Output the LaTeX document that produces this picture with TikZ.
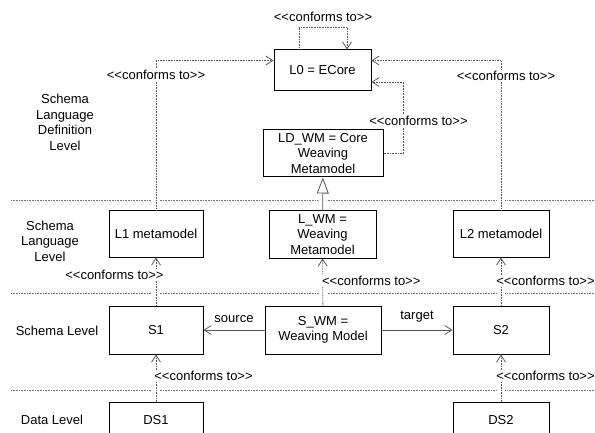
\documentclass[tikz,border=0pt]{standalone}
\usepackage{fontspec}
\setmainfont{Liberation Sans}
\usetikzlibrary{arrows.meta}

\newcommand\conftext{<\kern0pt<conforms to>\kern0pt>}

\begin{document}
\begin{tikzpicture}[x=1pt,y=-1pt,
	font=\fontsize{13}{15.5}\selectfont,
	box/.style={draw,line width=1pt,fill=white,align=center,inner sep=1pt},
	levelline/.style={draw=black!55,line width=.8pt,dash pattern=on .8pt off .8pt},
	gap/.style={preaction={draw=white,solid,line width=8pt,shorten >=4pt,shorten <=4pt,-}},
	conf/.style={gap,draw=black!65,line width=.8pt,dash pattern=on .8pt off .8pt,-{Straight Barb[length=7pt,width=9pt]}},
	inherit/.style={gap,draw=black!65,line width=.8pt,-{Triangle[open,length=16pt,width=12pt,fill=white]}},
	assoc/.style={draw=black!65,line width=.8pt,-{Straight Barb[length=7pt,width=9pt]}},
	conflabel/.style={fill=white,inner sep=1pt},
	levellabel/.style={align=center,inner sep=0pt}]
	\useasboundingbox (0,0) rectangle (595,433);

	% level separators
	\draw[levelline] (11,200) -- (595,200);
	\draw[levelline] (11,293) -- (595,293);
	\draw[levelline] (11,390) -- (595,390);

	% level names
	\node[levellabel] (sldl) at (65,122.5) {Schema\\Language\\Definition\\Level};
	\node[levellabel] (sll) at (50,241) {Schema\\Language\\Level};
	\node[levellabel] (sl) at (57,331) {Schema Level};
	\node[levellabel] (dl) at (52,420) {Data Level};

	% models
	\node[box,minimum width=97pt,minimum height=41pt] (L0) at (322.5,70.5) {L0 = ECore};
	\node[box,minimum width=120pt,minimum height=47pt] (LDWM) at (323,153.5) {LD\_WM = Core\\Weaving\\Metamodel};
	\node[box,minimum width=94pt,minimum height=46pt] (L1) at (156,234) {L1 metamodel};
	\node[box,minimum width=107pt,minimum height=47pt] (LWM) at (322.5,234.5) {L\_WM =\\Weaving\\Metamodel};
	\node[box,minimum width=96pt,minimum height=46pt] (L2) at (501,234) {L2 metamodel};
	\node[box,minimum width=94pt,minimum height=48pt] (S1) at (156,330) {S1};
	\node[box,minimum width=116pt,minimum height=48pt] (SWM) at (323,330) {S\_WM =\\Weaving Model};
	\node[box,minimum width=96pt,minimum height=48pt] (S2) at (501,330) {S2};
	\node[box,anchor=north,minimum width=94pt,text height=22pt,text depth=22pt,inner ysep=0pt] (DS1) at (156,402) {DS1};
	\node[box,anchor=north,minimum width=96pt,text height=22pt,text depth=22pt,inner ysep=0pt] (DS2) at (501,402) {DS2};

	% conformance
	\draw[conf] ([xshift=-23.5pt]L0.north) -- ++(0,-22) -- node[above=4pt,inner sep=1pt] {\conftext} ++(48,0) -- ([xshift=24.5pt]L0.north);
	\draw[conf] (L1) |- ([yshift=10pt]L0.west) node[conflabel,pos=.452] {\conftext};
	\draw[conf] (L2) |- ([yshift=10pt]L0.east) node[conflabel,pos=.448,xshift=5pt] {\conftext};
	\draw[conf] (LDWM.east) -- ++(20,0) |- ([yshift=-11.5pt]L0.east) node[conflabel,pos=.227,xshift=15pt] {\conftext};
	\draw[inherit] (LWM) -- (LDWM);

	\draw[conf] (S1) -- (L1) node[conflabel,pos=.63,anchor=east,xshift=9pt] {\conftext};
	\draw[conf] (SWM) -- (LWM) node[conflabel,pos=.52,anchor=west,xshift=-2pt] {\conftext};
	\draw[conf] (S2) -- (L2) node[conflabel,pos=.51,anchor=west,xshift=-6pt] {\conftext};
	\draw[conf] (DS1) -- (S1) node[conflabel,pos=.54,anchor=west,xshift=-3pt] {\conftext};
	\draw[conf] (DS2) -- (S2) node[conflabel,pos=.54,anchor=west,xshift=-6pt] {\conftext};

	% weaving links
	\draw[assoc] (SWM) -- node[above=6pt,inner sep=1pt] {source} (S1);
	\draw[assoc] (SWM) -- node[above=6pt,inner sep=1pt] {target} (S2);
\end{tikzpicture}
\end{document}
